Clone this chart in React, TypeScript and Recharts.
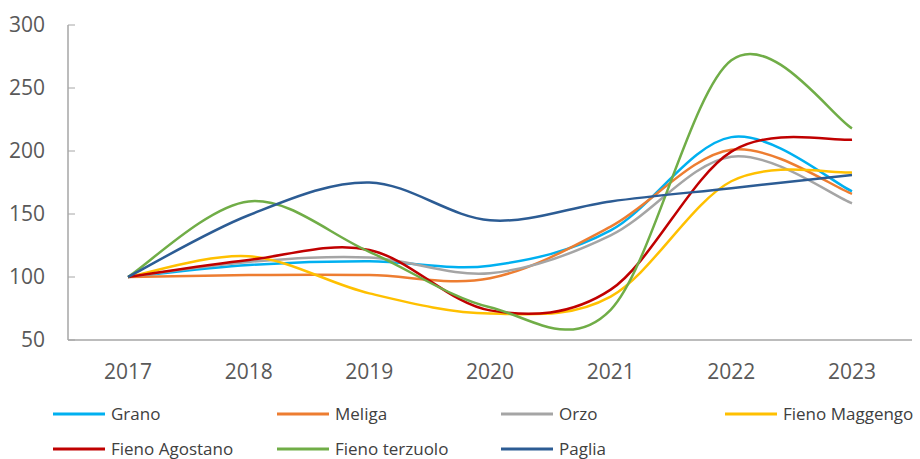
import React from 'react'
import { LineChart, Line, XAxis, YAxis, Legend } from 'recharts'

const years = ['2017', '2018', '2019', '2020', '2021', '2022', '2023']
const grano = [100, 109.5, 112.5, 109, 137, 211, 168]
const meliga = [100, 101.5, 101.5, 99, 140, 201, 166]
const orzo = [100, 112, 115.5, 103, 133, 195.5, 158.5]
const fienoMaggengo = [100, 116.5, 87, 71, 84.5, 176, 183]
const fienoAgostano = [100, 113.5, 121.5, 73.5, 90, 199.5, 209]
const fienoTerzuolo = [100, 160, 120, 76, 74, 272, 218]
const paglia = [100, 149, 175, 145, 160, 170.5, 181]
const yTicks = [50, 100, 150, 200, 250, 300]

const series = [
  { key: 'grano', name: 'Grano', color: '#00B0F0', values: grano },
  { key: 'meliga', name: 'Meliga', color: '#ED7D31', values: meliga },
  { key: 'orzo', name: 'Orzo', color: '#A5A5A5', values: orzo },
  { key: 'maggengo', name: 'Fieno Maggengo', color: '#FFC000', values: fienoMaggengo },
  { key: 'agostano', name: 'Fieno Agostano', color: '#C00000', values: fienoAgostano },
  { key: 'terzuolo', name: 'Fieno terzuolo', color: '#70AD47', values: fienoTerzuolo },
  { key: 'paglia', name: 'Paglia', color: '#2C5C94', values: paglia },
]

const rows = years.map((year, i) => {
  const row: Record<string, string | number> = { year }
  series.forEach((s) => {
    row[s.key] = s.values[i]
  })
  return row
})

const font = '"Open Sans", sans-serif'

// Excel-style smoothed line (Catmull-Rom through the points)
function excelCurve(context: any) {
  let pts: [number, number][] = []
  return {
    areaStart() {},
    areaEnd() {},
    lineStart() {
      pts = []
    },
    lineEnd() {
      const n = pts.length
      if (!n) return
      context.moveTo(pts[0][0], pts[0][1])
      for (let i = 0; i < n - 1; i++) {
        const p0 = pts[Math.max(i - 1, 0)]
        const p1 = pts[i]
        const p2 = pts[i + 1]
        const p3 = pts[Math.min(i + 2, n - 1)]
        context.bezierCurveTo(
          p1[0] + (p2[0] - p0[0]) / 6,
          p1[1] + (p2[1] - p0[1]) / 6,
          p2[0] - (p3[0] - p1[0]) / 6,
          p2[1] - (p3[1] - p1[1]) / 6,
          p2[0],
          p2[1]
        )
      }
    },
    point(x: number, y: number) {
      pts.push([+x, +y])
    },
  }
}

const order = series.map((s) => s.name)

const renderLegend = (props: any) => {
  const payload = [...(props.payload || [])].sort(
    (a: any, b: any) => order.indexOf(a.value) - order.indexOf(b.value)
  )
  return (
    <div style={{ display: 'flex', flexWrap: 'wrap', paddingLeft: 53, width: 960, boxSizing: 'border-box' }}>
      {payload.map((entry: any) => (
        <div key={entry.value} style={{ width: 224, height: 35, display: 'flex', alignItems: 'center' }}>
          <svg width={52} height={4}>
            <line x1={0} y1={2} x2={52} y2={2} stroke={entry.color} strokeWidth={3} />
          </svg>
          <span style={{ marginLeft: 6, fontSize: 17, lineHeight: '17px', color: '#404040', fontFamily: font, whiteSpace: 'nowrap' }}>
            {entry.value}
          </span>
        </div>
      ))}
    </div>
  )
}

export default function App() {
  return (
    <div style={{ position: 'absolute', left: 0, top: 0, width: 920, height: 459, background: '#fff', overflow: 'hidden' }}>
      <LineChart width={920} height={459} data={rows} margin={{ top: 25, right: 8, bottom: 89, left: 0 }}>
        <XAxis
          dataKey="year"
          padding={{ left: 60, right: 60 }}
          height={30}
          tickLine={false}
          tickSize={0}
          tickMargin={24}
          axisLine={{ stroke: '#A6A6A6', strokeWidth: 1.5 }}
          tick={{ fill: '#595959', fontSize: 21, fontFamily: font }}
        />
        <YAxis
          width={68}
          domain={[50, 300]}
          ticks={yTicks}
          interval={0}
          tickSize={-7}
          tickMargin={30}
          tickLine={{ stroke: '#A6A6A6' }}
          axisLine={{ stroke: '#A6A6A6', strokeWidth: 1.5 }}
          tick={{ fill: '#595959', fontSize: 21, fontFamily: font }}
        />
        {series.map((s) => (
          <Line
            key={s.key}
            dataKey={s.key}
            name={s.name}
            stroke={s.color}
            strokeWidth={2.5}
            type={excelCurve as any}
            dot={false}
            activeDot={false}
            isAnimationActive={false}
          />
        ))}
        <Legend
          layout="horizontal"
          align="center"
          verticalAlign="middle"
          content={renderLegend}
          wrapperStyle={{ left: 0, top: 396, width: 920, height: 63, overflow: 'visible' }}
        />
      </LineChart>
    </div>
  )
}
